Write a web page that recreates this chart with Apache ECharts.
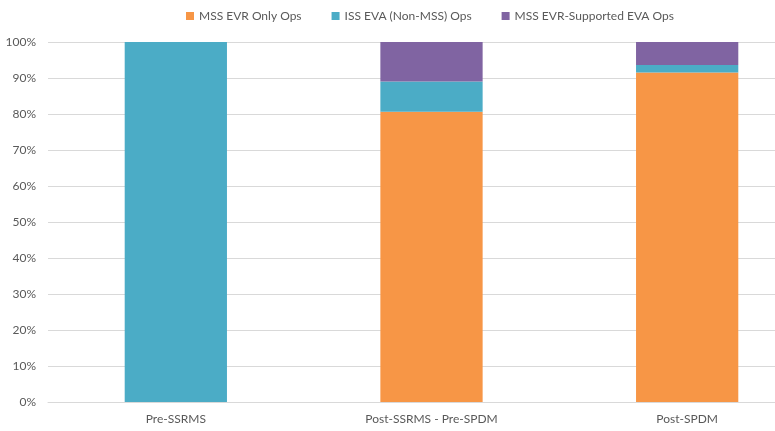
<!DOCTYPE html>
<html>
<head>
<meta charset="utf-8">
<script src="https://cdn.jsdelivr.net/npm/echarts@6/dist/echarts.min.js"></script>
<style>
  html, body { margin: 0; padding: 0; background: #fff; }
  #chart { width: 775px; height: 431px; }
</style>
</head>
<body>
<div id="chart"></div>
<script>
const categories = ['Pre-SSRMS', 'Post-SSRMS - Pre-SPDM', 'Post-SPDM'];
const evrOnly = [0, 80.6, 91.5];
const issEva = [100, 8.4, 2.1];
const evrSupportedEva = [0, 11.0, 6.4];
const yTicks = [0, 10, 20, 30, 40, 50, 60, 70, 80, 90, 100];

const chart = echarts.init(document.getElementById('chart'));
const font = 'Lato, "Open Sans", sans-serif';

function barSeries(name, data, color) {
  return {
    name: name,
    type: 'bar',
    stack: 'total',
    barWidth: '40%',
    data: data,
    itemStyle: { color: color },
    emphasis: { disabled: true }
  };
}

// the plot area runs past the right edge of the picture
chart.setOption({
  animation: false,
  legend: {
    top: 5,
    left: 181,
    itemWidth: 8,
    itemHeight: 8,
    itemGap: 30,
    icon: 'rect',
    textStyle: { fontFamily: font, fontSize: 12, color: '#595959' }
  },
  grid: { left: 48, right: -40, top: 42, bottom: 29, outerBoundsMode: 'none' },
  xAxis: {
    type: 'category',
    data: categories,
    axisLine: { lineStyle: { color: '#d9d9d9' } },
    axisTick: { show: false },
    axisLabel: { fontFamily: font, fontSize: 12, color: '#595959', margin: 11 }
  },
  yAxis: {
    type: 'value',
    min: yTicks[0],
    max: yTicks[yTicks.length - 1],
    interval: 10,
    axisLine: { show: false },
    axisTick: { show: false },
    splitLine: { lineStyle: { color: '#d9d9d9' } },
    axisLabel: { fontFamily: font, fontSize: 12, color: '#595959', margin: 12, formatter: '{value}%' }
  },
  series: [
    barSeries('MSS EVR Only Ops', evrOnly, '#F79646'),
    barSeries('ISS EVA (Non-MSS) Ops', issEva, '#4BACC6'),
    barSeries('MSS EVR-Supported EVA Ops', evrSupportedEva, '#8064A2')
  ]
});
</script>
</body>
</html>
